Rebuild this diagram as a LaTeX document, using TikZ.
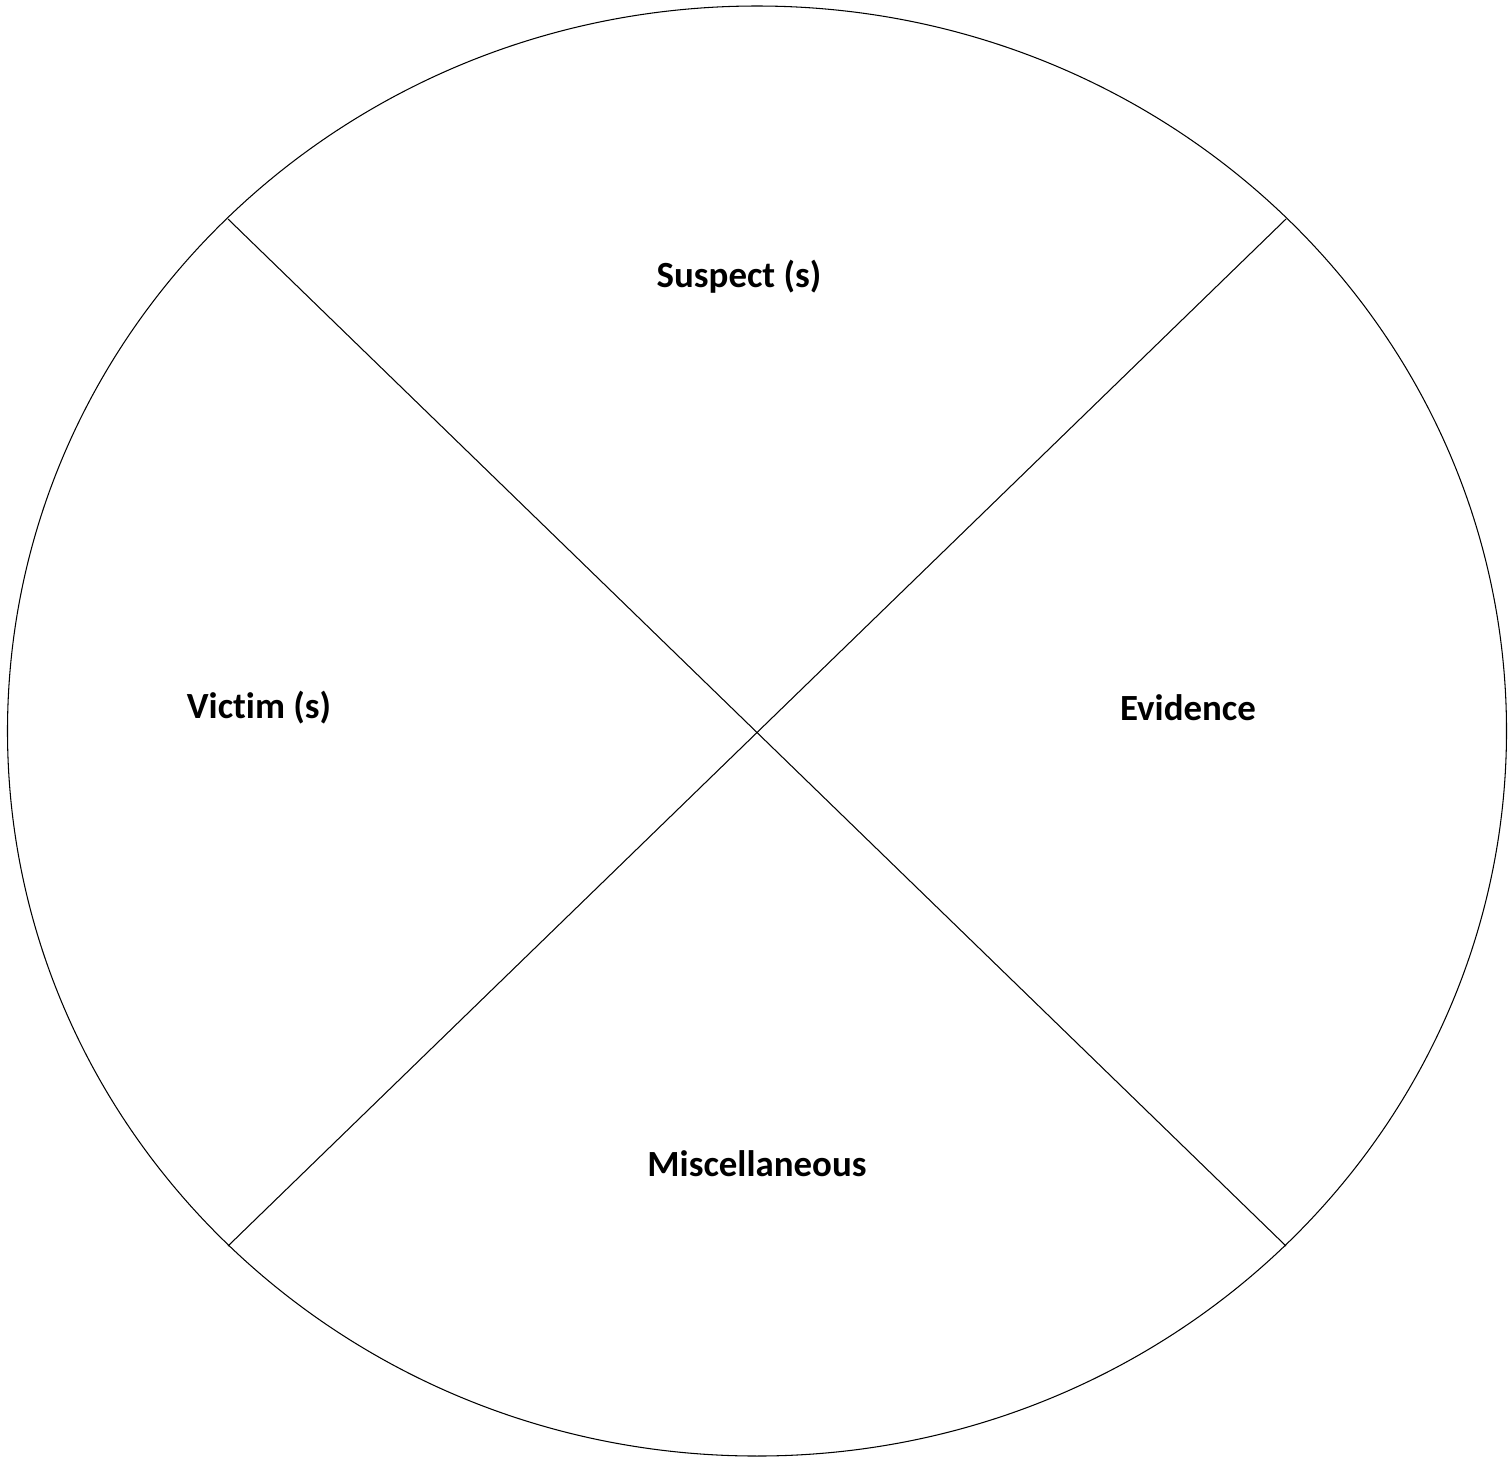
\documentclass[tikz,border=0pt]{standalone}
\usepackage{fontspec}
\setmainfont[Ligatures=NoCommon]{Carlito}
\usetikzlibrary{positioning}

\begin{document}
\begin{tikzpicture}[
    x=0.02cm, y=-0.02cm,
    rim/.style={draw, line width=0.6pt},
    divider/.style={draw, line width=0.6pt},
    sector/.style={font=\fontsize{21}{25}\selectfont\bfseries, inner sep=0pt}
]
\useasboundingbox (0,0) rectangle (1510,1458);

% Outer ring
\coordinate (mid) at (757,731);
\draw[rim] (mid) ellipse [x radius=749.5, y radius=725];

% Points on the ring where the dividers end
\coordinate (nw) at (228,219);
\coordinate (ne) at (1286,219);
\coordinate (sw) at (228,1246);
\coordinate (se) at (1286,1246);

% Dividers
\draw[divider] (nw) -- (se);
\draw[divider] (ne) -- (sw);

% Sector labels
\node[sector] (suspect) at (739,277) {Suspect (s)};
\node[sector] (victim) at (259,708) {Victim (s)};
\node[sector] (evidence) at (1188,708) {Evidence};
\node[sector] (misc) at (757,1164) {Miscellaneous};

\end{tikzpicture}
\end{document}
